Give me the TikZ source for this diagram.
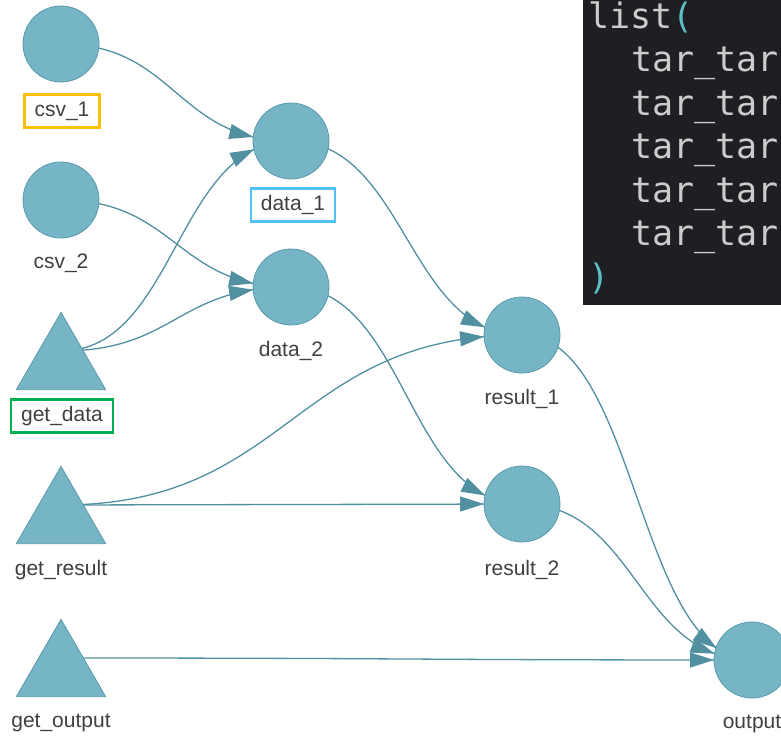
\documentclass[tikz,border=0pt]{standalone}
\usepackage{fontspec}
\setmainfont{Liberation Sans}
\newfontfamily\codefont{DejaVu Sans Mono}
\usetikzlibrary{arrows.meta, positioning, decorations.markings, backgrounds}
\definecolor{nodefill}{RGB}{118,181,197}
\definecolor{nodeline}{RGB}{90,154,171}
\definecolor{edgeteal}{RGB}{80,144,160}
\definecolor{labelgrey}{RGB}{64,64,64}
\definecolor{csvgold}{RGB}{255,192,0}
\definecolor{datablue}{RGB}{79,195,247}
\definecolor{getgreen}{RGB}{0,176,80}
\definecolor{codebg}{RGB}{30,31,34}
\definecolor{codetext}{RGB}{204,204,204}
\definecolor{codeparen}{RGB}{95,190,200}

\begin{document}
\begin{tikzpicture}[
  x=1pt, y=-1pt,
  tarnode/.style={circle, minimum size=76pt, inner sep=0pt, fill=nodefill, draw=nodeline, line width=0.8pt},
  fnnode/.style={minimum width=89pt, minimum height=77pt, inner sep=0pt},
  lbl/.style={font=\fontsize{21}{25}\selectfont, text=labelgrey, inner sep=0pt, text height=15pt, text depth=5pt},
  hilite/.style={lbl, draw=#1, line width=2.6pt, inner xsep=10pt, minimum height=33pt},
  link/.style={edgeteal, line width=1.3pt, postaction={decorate},
    decoration={markings, mark=at position -38pt with {\arrow[edgeteal]{Triangle[length=24pt, width=15pt]}}}},
  codeline/.style={font=\codefont\fontsize{35}{40}\selectfont, text=codetext, inner sep=0pt, anchor=base west}
]
  \useasboundingbox (0,0) rectangle (781,736);

  % targets
  \node[tarnode] (csv1) at (61,44) {};
  \node[tarnode] (csv2) at (61,200) {};
  \node[tarnode] (data1) at (291,141) {};
  \node[tarnode] (data2) at (291,287) {};
  \node[tarnode] (result1) at (522,335) {};
  \node[tarnode] (result2) at (522,504) {};
  \node[tarnode] (output) at (752,660) {};

  % functions (triangles)
  \node[fnnode] (getdata) at (61,351) {};
  \node[fnnode] (getresult) at (61,505) {};
  \node[fnnode] (getoutput) at (61,658) {};
  \foreach \f in {getdata, getresult, getoutput}
    \filldraw[fill=nodefill, draw=nodeline, line width=0.8pt] (\f.north) -- (\f.south east) -- (\f.south west) -- cycle;

  % labels
  \node[hilite=csvgold] (csv1lbl) at (62,111) {csv\_1};
  \node[lbl] (csv2lbl) at (61,263) {csv\_2};
  \node[hilite=getgreen] (getdatalbl) at (62,416) {get\_data};
  \node[lbl] (getresultlbl) at (61,570) {get\_result};
  \node[lbl] (getoutputlbl) at (61,722) {get\_output};
  \node[hilite=datablue] (data1lbl) at (293,205) {data\_1};
  \node[lbl] (data2lbl) at (291,351) {data\_2};
  \node[lbl] (result1lbl) at (522,399) {result\_1};
  \node[lbl] (result2lbl) at (522,570) {result\_2};
  \node[lbl] (outputlbl) at (752,723) {output};

  % dependencies
  \begin{pgfonlayer}{background}
    \draw[link] (csv1.center) .. controls +(115,0) and +(-115,0) .. (data1.center);
    \draw[link] (getdata.center) .. controls +(115,0) and +(-115,0) .. (data1.center);
    \draw[link] (csv2.center) .. controls +(115,0) and +(-115,0) .. (data2.center);
    \draw[link] (getdata.center) .. controls +(115,0) and +(-115,0) .. (data2.center);
    \draw[link] (data1.center) .. controls +(115,0) and +(-115,0) .. (result1.center);
    \draw[link] (getresult.center) .. controls +(230,0) and +(-230,0) .. (result1.center);
    \draw[link] (data2.center) .. controls +(115,0) and +(-115,0) .. (result2.center);
    \draw[link] (getresult.center) .. controls +(230,0) and +(-230,0) .. (result2.center);
    \draw[link] (result1.center) .. controls +(115,0) and +(-115,0) .. (output.center);
    \draw[link] (result2.center) .. controls +(115,0) and +(-115,0) .. (output.center);
    \draw[link] (getoutput.center) .. controls +(345,0) and +(-345,0) .. (output.center);
  \end{pgfonlayer}

  % code panel
  \fill[codebg] (583,0) rectangle (781,305);
  \node[codeline] (codeopen) at (588,28) {list\textcolor{codeparen}{(}};
  \node[codeline] (code1) at (631,71.5) {tar\_tar};
  \node[codeline] (code2) at (631,115) {tar\_tar};
  \node[codeline] (code3) at (631,158.5) {tar\_tar};
  \node[codeline] (code4) at (631,202) {tar\_tar};
  \node[codeline] (code5) at (631,245.5) {tar\_tar};
  \node[codeline, text=codeparen] (codeclose) at (588,289) {)};
\end{tikzpicture}
\end{document}
